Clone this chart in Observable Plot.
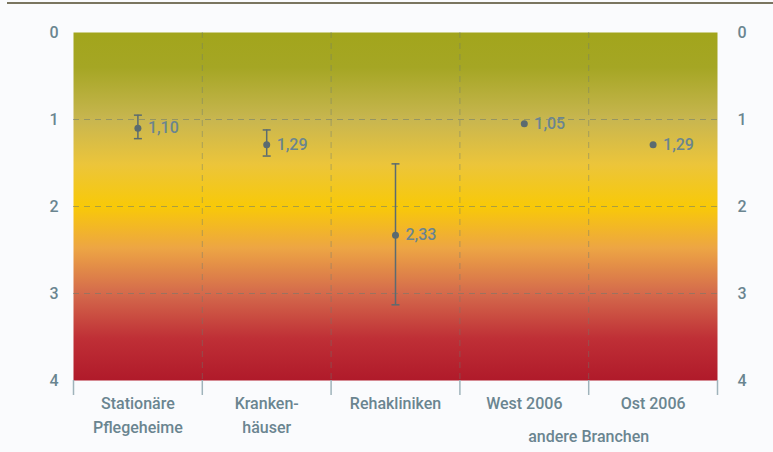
<!DOCTYPE html>
<html><head><meta charset="utf-8">
<script src="https://cdn.jsdelivr.net/npm/d3@7"></script>
<script src="https://cdn.jsdelivr.net/npm/@observablehq/plot@0.6"></script>
<style>
html,body{margin:0;padding:0;background:#fafbfd;}
#topline{position:absolute;left:7px;top:2px;width:766px;height:2px;background:#7a7560;}
</style>
</head><body>
<div id="topline"></div>
<div id="chart"></div>
<script>
const categories = ["Stationäre\nPflegeheime", "Kranken-\nhäuser", "Rehakliniken", "West 2006", "Ost 2006"];
const values = [1.10, 1.29, 2.33, 1.05, 1.29];
const lower = [0.95, 1.12, 1.51, null, null];
const upper = [1.22, 1.42, 3.13, null, null];
const valueLabels = ["1,10", "1,29", "2,33", "1,05", "1,29"];
const yTicks = [0, 1, 2, 3, 4];
const groupLabel = "andere Branchen";

const data = categories.map((c, i) => ({pos: i + 0.5, v: values[i], lo: lower[i], hi: upper[i], lab: valueLabels[i]}));
const errs = data.filter(d => d.lo != null);
const boundaries = d3.range(0, categories.length + 1);
const inner = d3.range(1, categories.length);

const capSymbol = {draw(ctx, size) { const r = Math.sqrt(size / Math.PI); ctx.moveTo(-r, 0); ctx.lineTo(r, 0); }};
const textColor = "#6a8590";
const markColor = "#5b6b70";
const fs = 16;

const svg = Plot.plot({
  width: 773, height: 452,
  marginLeft: 73, marginRight: 56, marginTop: 32, marginBottom: 72,
  style: {background: "transparent", fontFamily: "Roboto, 'Open Sans', sans-serif"},
  x: {type: "linear", domain: [0, categories.length], label: null},
  y: {domain: [0, 4], reverse: true, label: null},
  marks: [
    Plot.frame({fill: "url(#bggrad)", stroke: null}),
    Plot.ruleY([1, 2, 3], {stroke: "#6b7a70", strokeOpacity: 0.55, strokeDasharray: "6,5", strokeWidth: 1}),
    Plot.ruleX(inner, {stroke: "#6b7a70", strokeOpacity: 0.45, strokeDasharray: "6,5", strokeWidth: 1}),
    Plot.axisX({ticks: boundaries, tickFormat: () => "", tickSize: 15, stroke: "#9fb3bb", strokeWidth: 1.5, label: null}),
    Plot.axisX({ticks: data.map(d => d.pos), tickFormat: (d) => categories[Math.floor(d)], tickSize: 0, tickPadding: 11,
      fontSize: fs, lineHeight: 1.5, fill: textColor, fontWeight: 500, label: null}),
    Plot.text([groupLabel], {x: () => 4, y: () => 4, dy: 56, fontSize: fs, fill: textColor, fontWeight: 500, text: d => d}),
    Plot.axisY({anchor: "left", ticks: yTicks, tickFormat: d => String(d), tickSize: 0, tickPadding: 15, fontSize: fs, fill: textColor, fontWeight: 500, label: null}),
    Plot.axisY({anchor: "right", ticks: yTicks, tickFormat: d => String(d), tickSize: 0, tickPadding: 20, fontSize: fs, fill: textColor, fontWeight: 500, label: null}),
    Plot.ruleX(errs, {x: "pos", y1: "lo", y2: "hi", stroke: markColor, strokeWidth: 1.5}),
    Plot.dot(errs, {x: "pos", y: "lo", symbol: capSymbol, r: 4, stroke: markColor, strokeWidth: 1.5}),
    Plot.dot(errs, {x: "pos", y: "hi", symbol: capSymbol, r: 4, stroke: markColor, strokeWidth: 1.5}),
    Plot.dot(data, {x: "pos", y: "v", r: 3.5, fill: markColor, stroke: null}),
    Plot.text(data, {x: "pos", y: "v", text: "lab", dx: 10, textAnchor: "start", fontSize: fs, fill: textColor, fontWeight: 500})
  ]
});

const defs = `<defs><linearGradient id="bggrad" x1="0" y1="0" x2="0" y2="1">
<stop offset="0" stop-color="#a2a51c"/>
<stop offset="0.1" stop-color="#a5a624"/>
<stop offset="0.25" stop-color="#c8b650"/>
<stop offset="0.38" stop-color="#ecc53a"/>
<stop offset="0.5" stop-color="#f8c908"/>
<stop offset="0.62" stop-color="#eda544"/>
<stop offset="0.75" stop-color="#d46a4c"/>
<stop offset="0.88" stop-color="#bf2f36"/>
<stop offset="1" stop-color="#b01a2a"/>
</linearGradient></defs>`;
svg.insertAdjacentHTML("afterbegin", defs);
document.getElementById("chart").appendChild(svg);
</script>
</body></html>
